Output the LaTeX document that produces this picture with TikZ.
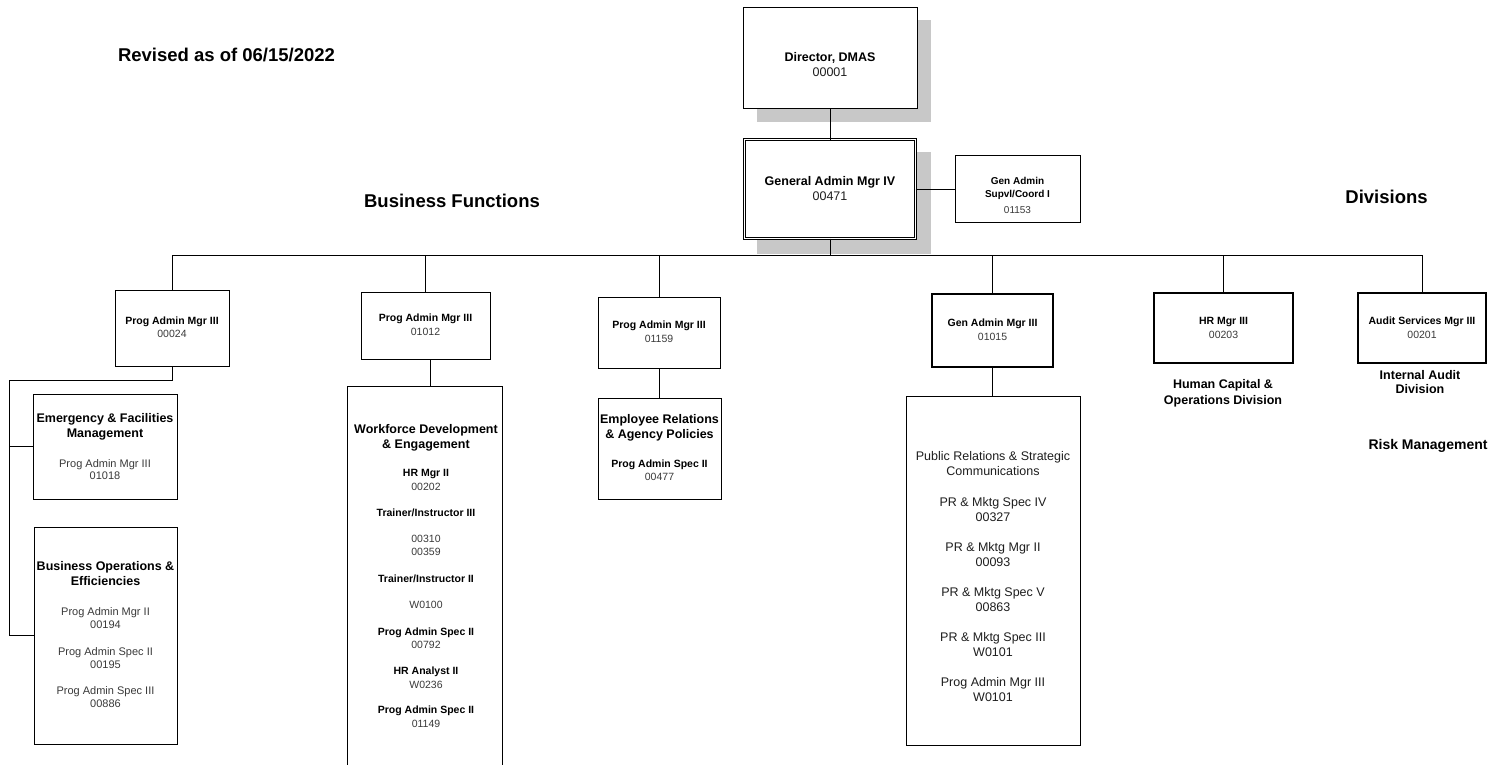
\documentclass[tikz,border=0pt]{standalone}
\usepackage{fontspec}
\setmainfont{Liberation Sans}
\definecolor{numgray}{HTML}{3A3A3A}
\definecolor{txtdark}{HTML}{1E1E1E}
\definecolor{shadowc}{HTML}{C8C8C8}
\newcommand\mkbox[6][box]{\node[#1,minimum width={(#5-#3)*1pt},minimum height={(#6-#4)*1pt}] (#2) at ({(#3+#5)/2},{(#4+#6)/2}) {};}
\begin{document}
\begin{tikzpicture}[x=1pt,y=-1pt,
  box/.style={draw,line width=0.8pt,fill=white,inner sep=0pt,outer sep=0pt},
  thickbox/.style={box,line width=2.6pt},
  dblbox/.style={box,double,double distance=1.4pt,line width=0.8pt},
  conn/.style={line width=0.8pt},
  t/.style={anchor=base,inner sep=0pt,outer sep=0pt},
  head/.style={t,font=\bfseries\fontsize{18.5}{22}\selectfont},
  btitle/.style={t,font=\bfseries\fontsize{12.5}{15}\selectfont},
  rtitle/.style={t,text=txtdark,font=\fontsize{12.5}{15}\selectfont},
  bsmall/.style={t,font=\bfseries\fontsize{10.5}{13}\selectfont},
  rsmall/.style={t,text=numgray,font=\fontsize{10.5}{13}\selectfont},
  rmid/.style={t,text=numgray,font=\fontsize{11}{13}\selectfont},
]
\useasboundingbox (0,0) rectangle (1507,764);

% shadows
\fill[shadowc] (757,20) rectangle (931,122);
\fill[shadowc] (757,152) rectangle (931,254);

% boxes
\mkbox{dir}{743}{7}{917}{108}
\mkbox[dblbox]{gam}{744.5}{139.5}{915.5}{238.5}
\mkbox{sup}{955}{155}{1080}{222}
\mkbox{p1}{115}{290}{229}{366}
\mkbox{p2}{361}{292}{490}{359}
\mkbox{p3}{598}{297}{720}{368}
\mkbox[thickbox]{p4}{932}{294}{1053}{367}
\mkbox[thickbox]{p5}{1154}{293}{1293}{363}
\mkbox[thickbox]{p6}{1358}{293}{1486}{363}
\mkbox{em}{33}{394}{177}{499}
\mkbox{bo}{34}{527}{177}{744}
\mkbox{wf}{347}{386}{502}{770}
\mkbox{er}{598}{398}{721}{499}
\mkbox{pr}{906}{396}{1080}{745}

% connectors
\coordinate (bus) at (0,255);
\coordinate (lft) at (9,380);
\draw[conn] (dir.south) -- (gam.north);
\draw[conn] (gam.east) -- (gam.east -| sup.west);
\draw[conn] (gam.south) -- (gam.south |- bus);
\draw[conn] (p1.north |- bus) -- (p6.north |- bus);
\foreach \n in {p1,p2,p3,p4,p5,p6}{\draw[conn] (\n.north) -- (\n.north |- bus);}
\draw[conn] (p1.south) -- (p1.south |- lft) -- (lft) -- (lft |- bo.west) -- (bo.west);
\draw[conn] (lft |- em.west) -- (em.west);
\draw[conn] ([xshift=5pt]p2.south) -- ([xshift=5pt]p2.south |- wf.north);
\draw[conn] (p3.south) -- (p3.south |- er.north);
\draw[conn] (p4.south) -- (p4.south |- pr.north);

% headings
\node[head,anchor=base west] (rev) at (118,61.7) {Revised as of 06/15/2022};
\node[head] (bf) at (452,207.7) {Business Functions};
\node[head] (dv) at (1386.5,203.7) {Divisions};

% top boxes
\node[btitle] (dir1) at (830,61.5) {Director, DMAS};
\node[rtitle] (dir2) at (830,76.5) {00001};
\node[btitle] (gam1) at (830,185.5) {General Admin Mgr IV};
\node[rtitle] (gam2) at (830,200.5) {00471};
\node[t,font=\bfseries\fontsize{10}{12}\selectfont] (sup1) at (1017.5,184.6) {Gen Admin};
\node[t,font=\bfseries\fontsize{10}{12}\selectfont] (sup2) at (1017.5,197.6) {Supvl/Coord I};
\node[t,text=numgray,font=\fontsize{10}{12}\selectfont] (sup3) at (1017.5,213.6) {01153};

% second level
\node[bsmall] (p1a) at (172,324.8) {Prog Admin Mgr III};
\node[rsmall] (p1b) at (172,337.8) {00024};
\node[bsmall] (p2a) at (425.5,321.8) {Prog Admin Mgr III};
\node[rsmall] (p2b) at (425.5,335.8) {01012};
\node[bsmall] (p3a) at (659,328.8) {Prog Admin Mgr III};
\node[rsmall] (p3b) at (659,342.8) {01159};
\node[bsmall] (p4a) at (992.5,326.8) {Gen Admin Mgr III};
\node[rsmall] (p4b) at (992.5,340.8) {01015};
\node[bsmall] (p5a) at (1223.5,324.8) {HR Mgr III};
\node[rsmall] (p5b) at (1223.5,338.8) {00203};
\node[bsmall] (p6a) at (1422,324.8) {Audit Services Mgr III};
\node[rsmall] (p6b) at (1422,338.8) {00201};

% division labels
\node[btitle] (hc1) at (1223,388.5) {Human Capital \&};
\node[btitle] (hc2) at (1223,404.5) {Operations Division};
\node[btitle] (ia1) at (1420,379.5) {Internal Audit};
\node[btitle] (ia2) at (1420,393.5) {Division};
\node[t,font=\bfseries\fontsize{14}{16}\selectfont] (rm) at (1428,449) {Risk Management};

% Emergency
\node[btitle] (em1) at (105,422.5) {Emergency \& Facilities};
\node[btitle] (em2) at (105,437.5) {Management};
\node[rmid] (em3) at (105,467) {Prog Admin Mgr III};
\node[rmid] (em4) at (105,479) {01018};

% Business Operations
\node[btitle] (bo1) at (105.5,570.5) {Business Operations \&};
\node[btitle] (bo2) at (105.5,585.5) {Efficiencies};
\node[rmid] (bo3) at (105.5,615) {Prog Admin Mgr II};
\node[rmid] (bo4) at (105.5,628) {00194};
\node[rmid] (bo5) at (105.5,655) {Prog Admin Spec II};
\node[rmid] (bo6) at (105.5,668) {00195};
\node[rmid] (bo7) at (105.5,694) {Prog Admin Spec III};
\node[rmid] (bo8) at (105.5,707) {00886};

% Workforce
\node[btitle] (wf1) at (426,433.5) {Workforce Development};
\node[btitle] (wf2) at (426,448.5) {\& Engagement};
\node[bsmall] (wf3) at (426,476.8) {HR Mgr II};
\node[rsmall] (wf4) at (426,490.8) {00202};
\node[bsmall] (wf5) at (426,516.8) {Trainer/Instructor III};
\node[rsmall] (wf6) at (426,542.8) {00310};
\node[rsmall] (wf7) at (426,555.8) {00359};
\node[bsmall] (wf8) at (426,582.8) {Trainer/Instructor II};
\node[rsmall] (wf9) at (426,608.8) {W0100};
\node[bsmall] (wf10) at (426,635.8) {Prog Admin Spec II};
\node[rsmall] (wf11) at (426,648.8) {00792};
\node[bsmall] (wf12) at (426,674.8) {HR Analyst II};
\node[rsmall] (wf13) at (426,688.8) {W0236};
\node[bsmall] (wf14) at (426,713.8) {Prog Admin Spec II};
\node[rsmall] (wf15) at (426,727.8) {01149};

% Employee Relations
\node[btitle] (er1) at (659.5,423.5) {Employee Relations};
\node[btitle] (er2) at (659.5,438.5) {\& Agency Policies};
\node[bsmall] (er3) at (659.5,467.8) {Prog Admin Spec II};
\node[rsmall] (er4) at (659.5,480.8) {00477};

% Public Relations
\node[rtitle] (pr1) at (993,460.5) {Public Relations \& Strategic};
\node[rtitle] (pr2) at (993,475.5) {Communications};
\node[rtitle] (pr3) at (993,506.5) {PR \& Mktg Spec IV};
\node[rtitle] (pr4) at (993,521.5) {00327};
\node[rtitle] (pr5) at (993,551.5) {PR \& Mktg Mgr II};
\node[rtitle] (pr6) at (993,566.5) {00093};
\node[rtitle] (pr7) at (993,596.5) {PR \& Mktg Spec V};
\node[rtitle] (pr8) at (993,611.5) {00863};
\node[rtitle] (pr9) at (993,641.5) {PR \& Mktg Spec III};
\node[rtitle] (pr10) at (993,656.5) {W0101};
\node[rtitle] (pr11) at (993,686.5) {Prog Admin Mgr III};
\node[rtitle] (pr12) at (993,701.5) {W0101};
\end{tikzpicture}
\end{document}
